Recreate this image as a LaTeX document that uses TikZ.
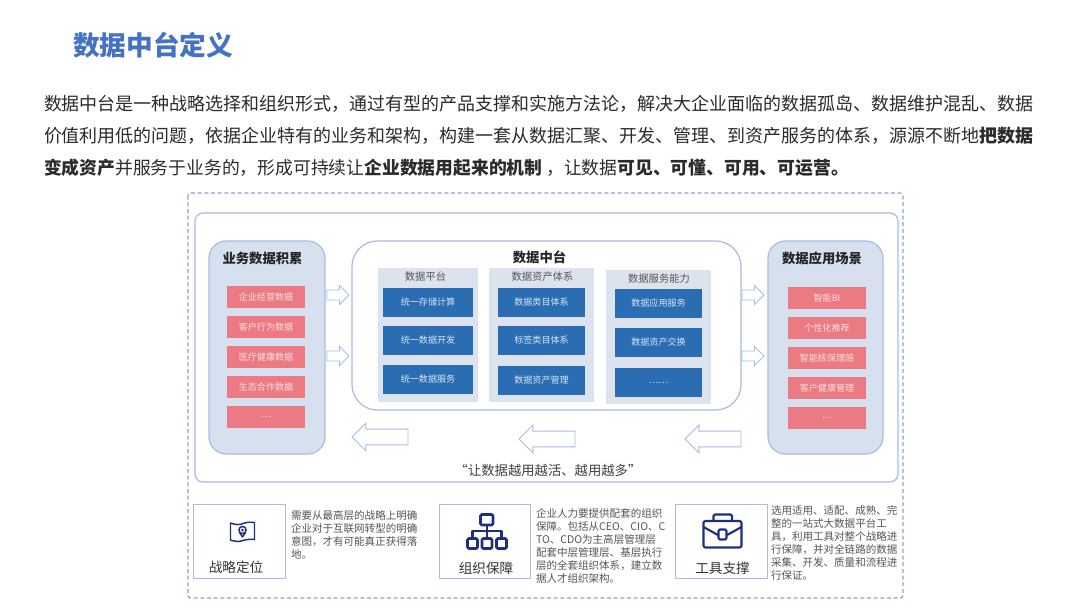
\documentclass[tikz,border=0pt]{standalone}
\usepackage{fontspec}
\setmainfont{Noto Sans CJK SC}
\usetikzlibrary{shapes.arrows}
\definecolor{titleblue}{HTML}{4472C4}
\definecolor{bodyink}{HTML}{2B2B2B}
\definecolor{edgeblue}{HTML}{A9BCE0}
\definecolor{dashblue}{HTML}{8CA3D0}
\definecolor{panelfill}{HTML}{D7E0EF}
\definecolor{colfill}{HTML}{DCE3EE}
\definecolor{bluebox}{HTML}{2A6DB3}
\definecolor{redbox}{HTML}{EC7A82}
\definecolor{redtext}{HTML}{FBE0E2}
\definecolor{bluetext}{HTML}{D6E4F2}
\definecolor{iconblue}{HTML}{1F2F80}
\definecolor{greytext}{HTML}{555555}
\newcommand{\fsz}[1]{\fontsize{#1}{#1}\selectfont}
\tikzset{
  x=0.75pt,y=-0.75pt,
  every node/.style={inner sep=0pt,outer sep=0pt},
  bodyline/.style={anchor=base west,text=bodyink,font=\fsz{13.49}},
  panel/.style={draw=edgeblue,line width=0.9pt,fill=panelfill,rounded corners=13pt},
  colpanel/.style={fill=colfill},
  redcell/.style={fill=redbox,text=redtext,font=\fsz{6.8},minimum width=58.5pt,minimum height=16.5pt},
  bluecell/.style={fill=bluebox,text=bluetext,font=\fsz{6.8},minimum width=66pt,minimum height=21.8pt},
  panelhead/.style={font=\bfseries\fsz{10},text=black!85},
  colhead/.style={font=\fsz{7.7},text=greytext},
  rarrow/.style={shape=single arrow,draw=edgeblue,fill=white,line width=0.7pt,inner ysep=3.4pt,inner xsep=0pt,minimum height=16.5pt,single arrow head extend=3.4pt,shape border rotate=0,anchor=tail},
  larrow/.style={shape=single arrow,draw=edgeblue,fill=white,line width=0.7pt,inner ysep=5.6pt,inner xsep=0pt,minimum height=42pt,single arrow head extend=4.5pt,shape border rotate=180,anchor=tip},
  infobox/.style={draw=edgeblue,line width=0.7pt,fill=white,minimum width=68.5pt,minimum height=55.5pt},
  boxlabel/.style={font=\fsz{10.2},text=black!80},
  noteline/.style={anchor=base west,font=\fsz{7.9},text=greytext},
  icon/.style={draw=iconblue,line width=1.1pt,line join=round}
}
\begin{document}
\begin{tikzpicture}
\useasboundingbox (0,0) rectangle (1080,608);
\fill[white] (0,0) rectangle (1080,608);
% heading and paragraph
\node[anchor=base west,font=\bfseries\fsz{20},text=titleblue] (title) at (73,55) {数据中台定义};
\node[bodyline] (l1) at (44,110) {数据中台是一种战略选择和组织形式，通过有型的产品支撑和实施方法论，解决大企业面临的数据孤岛、数据维护混乱、数据};
\node[bodyline] (l2) at (44,142) {价值利用低的问题，依据企业特有的业务和架构，构建一套从数据汇聚、开发、管理、到资产服务的体系，源源不断地\textbf{把数据}};
\node[bodyline,font=\fsz{13.35}] (l3) at (44,174) {\textbf{变成资产}并服务于业务的，形成可持续让\textbf{企业数据用起来的机制} ，让数据\textbf{可见、可懂、可用、可运营。}};
% frames
\draw[dashblue,line width=0.9pt,dash pattern=on 3pt off 2pt,rounded corners=2pt] (188,193) rectangle (903,598);
\draw[edgeblue,line width=0.9pt,rounded corners=6pt] (195,213) rectangle (898,482);
% side panels
\draw[panel] (209,241) rectangle (325,454);
\draw[panel] (768,241) rectangle (883,454);
\node[panelhead] (leftH) at (262.5,258) {业务数据积累};
\node[panelhead] (rightH) at (822,258) {数据应用场景};
\node[redcell] (a1) at (266,297) {企业经营数据};
\node[redcell] (a2) at (266,327) {客户行为数据};
\node[redcell] (a3) at (266,357) {医疗健康数据};
\node[redcell] (a4) at (266,387) {生态合作数据};
\node[redcell] (a5) at (266,417) {…};
\node[redcell] (b1) at (827,298) {智能BI};
\node[redcell] (b2) at (827,328) {个性化推荐};
\node[redcell] (b3) at (827,358) {智能核保理赔};
\node[redcell] (b4) at (827,388) {客户健康管理};
\node[redcell] (b5) at (827,418) {…};
% centre panel
\draw[edgeblue,line width=0.9pt,fill=white,rounded corners=19pt] (352,241) rectangle (741,410);
\node[panelhead] (midH) at (539.5,257) {数据中台};
\fill[colpanel] (378,268) rectangle (478,402);
\fill[colpanel] (489,268) rectangle (594,402);
\fill[colpanel] (606,270) rectangle (711,404);
\node[colhead] (c1H) at (425.5,277) {数据平台};
\node[colhead] (c2H) at (542.5,277) {数据资产体系};
\node[colhead] (c3H) at (659,279) {数据服务能力};
\node[bluecell,minimum width=68pt] (c11) at (428,302.5) {统一存储计算};
\node[bluecell,minimum width=68pt] (c12) at (428,340.5) {统一数据开发};
\node[bluecell,minimum width=68pt] (c13) at (428,379.5) {统一数据服务};
\node[bluecell,minimum width=65pt] (c21) at (541.5,302.5) {数据类目体系};
\node[bluecell,minimum width=65pt] (c22) at (541.5,340.5) {标签类目体系};
\node[bluecell,minimum width=65pt] (c23) at (541.5,380.5) {数据资产管理};
\node[bluecell,minimum width=65pt] (c31) at (658.5,303.5) {数据应用服务};
\node[bluecell,minimum width=65pt] (c32) at (658.5,342.5) {数据资产交换};
\node[bluecell,minimum width=65pt] (c33) at (658.5,382.5) {……};
% block arrows
\node[rarrow] (r1) at (327,295) {};
\node[rarrow] (r2) at (327,356) {};
\node[rarrow] (r3) at (742,295) {};
\node[rarrow] (r4) at (742,356) {};
\node[larrow] (s1) at (352,437) {};
\node[larrow] (s2) at (519,439) {};
\node[larrow] (s3) at (685,439) {};
\node[font=\fsz{10},text=black!75] (slogan) at (548,470) {“让数据越用越活、越用越多”};
% bottom boxes
\node[infobox] (box1) at (239.5,541) {};
\node[infobox] (box2) at (485,541) {};
\node[infobox] (box3) at (721.5,541) {};
\node[boxlabel] (lab1) at (236,567) {战略定位};
\node[boxlabel] (lab2) at (486,568) {组织保障};
\node[boxlabel] (lab3) at (722.5,568) {工具支撑};
\node[noteline] (n11) at (291,519.5) {需要从最高层的战略上明确};
\node[noteline] (n12) at (291,532.5) {企业对于互联网转型的明确};
\node[noteline] (n13) at (291,545.5) {意图，才有可能真正获得落};
\node[noteline] (n14) at (291,558.5) {地。};
\node[noteline] (n21) at (536,517) {企业人力要提供配套的组织};
\node[noteline] (n22) at (536,530) {保障。包括从CEO、CIO、C};
\node[noteline] (n23) at (536,543) {TO、CDO为主高层管理层};
\node[noteline] (n24) at (536,556) {配套中层管理层、基层执行};
\node[noteline] (n25) at (536,569) {层的全套组织体系，建立数};
\node[noteline] (n26) at (536,582) {据人才组织架构。};
\node[noteline] (n31) at (771,514) {选用适用、适配、成熟、完};
\node[noteline] (n32) at (771,527) {整的一站式大数据平台工};
\node[noteline] (n33) at (771,540) {具，利用工具对整个战略进};
\node[noteline] (n34) at (771,553) {行保障，并对全链路的数据};
\node[noteline] (n35) at (771,566) {采集、开发、质量和流程进};
\node[noteline] (n36) at (771,579) {行保证。};
% map icon
\draw[icon] (230.5,523) .. controls (236,525) and (240,525) .. (243,523.5) .. controls (247,522) and (251,522) .. (254.5,522.5) -- (254.5,539.5) .. controls (250,539) and (246,539.5) .. (243,540.5) .. controls (239,542) and (235,541.5) .. (230.5,540) -- cycle;
\draw[icon] (242.5,530) circle (3.6);
\fill[iconblue] (242.5,530) circle (1.5);
\draw[icon] (239.5,532.5) -- (242.5,537) -- (245.5,532.5);
% org icon
\draw[icon,line width=2pt,rounded corners=1pt] (480.5,514.5) rectangle (493,525);
\draw[icon,line width=2pt] (487,525) -- (487,537);
\draw[icon,line width=2pt] (472.5,537) -- (472.5,531) -- (501.5,531) -- (501.5,537);
\draw[icon,line width=2pt,rounded corners=1pt] (467.5,538.5) rectangle (477.5,548.5);
\draw[icon,line width=2pt,rounded corners=1pt] (482,538.5) rectangle (492,548.5);
\draw[icon,line width=2pt,rounded corners=1pt] (496.5,538.5) rectangle (506.5,548.5);
% briefcase icon
\draw[icon,line width=1.6pt,rounded corners=1.5pt] (703.5,521) rectangle (741.5,547.5);
\draw[icon,line width=1.6pt,rounded corners=1pt] (713.5,521) -- (713.5,514.5) -- (732,514.5) -- (732,521);
\draw[icon,line width=1.6pt] (703.5,527) -- (718,535);
\draw[icon,line width=1.6pt] (741.5,527) -- (727,535);
\draw[icon,line width=1.6pt,rounded corners=1pt,fill=white] (718.5,529.5) rectangle (726.5,539.5);
\end{tikzpicture}
\end{document}
